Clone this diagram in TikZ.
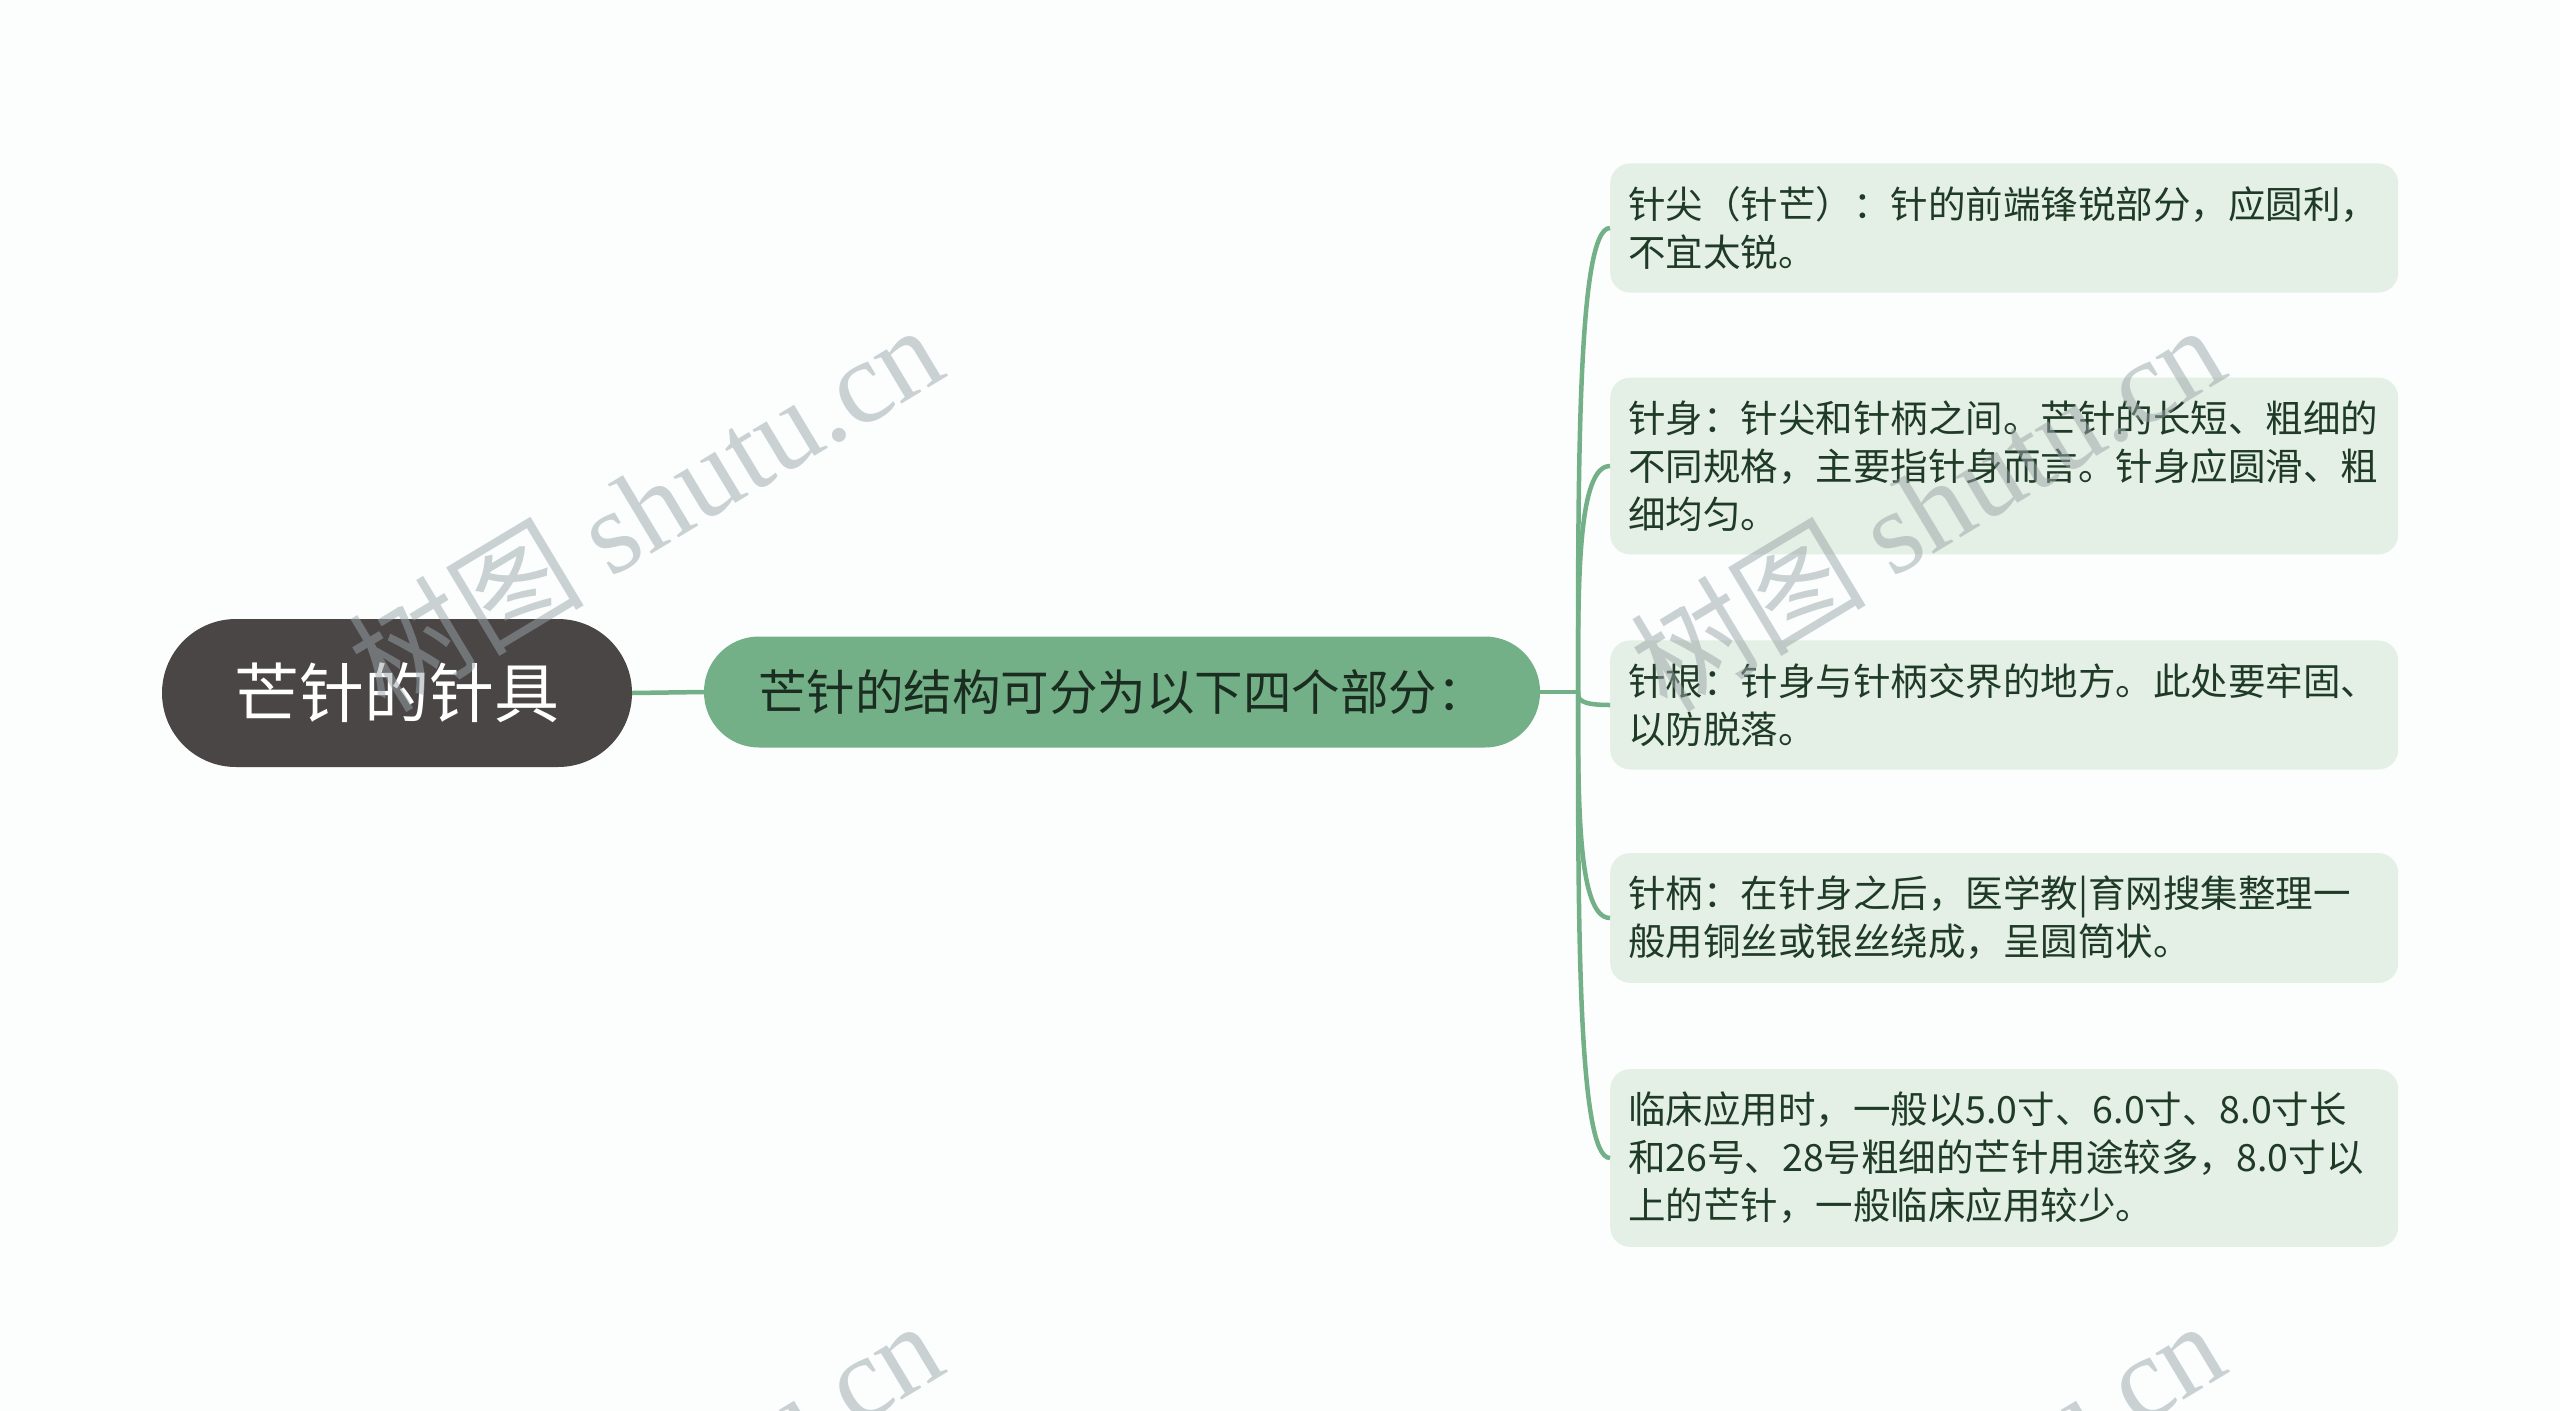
\documentclass[tikz,border=0pt]{standalone}
\usepackage{fontspec}
\setmainfont{Noto Sans CJK SC}
\newfontfamily\markfont{Liberation Serif}
\usepackage{xcolor}
\usetikzlibrary{positioning,calc}

\definecolor{bgpaper}{HTML}{FBFEFD}
\definecolor{rootgrey}{HTML}{4B4646}
\definecolor{branchgreen}{HTML}{73B087}
\definecolor{leafgreen}{HTML}{E4EFE6}
\definecolor{leaftext}{HTML}{1F3B27}
\definecolor{midtext}{HTML}{1B2C20}
\definecolor{markgrey}{HTML}{9AA5A8}

\begin{document}
\begin{tikzpicture}[x=1pt, y=-1pt,
    rootbox/.style={fill=rootgrey, text=white, rounded corners=74pt, minimum width=470pt, minimum height=148pt, inner sep=0pt, font=\fontsize{65}{70}\selectfont},
    midbox/.style={fill=branchgreen, text=midtext, rounded corners=55pt, minimum width=836pt, minimum height=111pt, inner sep=0pt, font=\fontsize{48.5}{52}\selectfont},
    leafbox/.style={fill=leafgreen, text=leaftext, rounded corners=20pt, anchor=west, text width=752pt, align=left, inner xsep=18pt, inner ysep=23pt, font=\fontsize{37.5}{48}\selectfont},
    branch/.style={draw=branchgreen, line width=4.5pt},
    watermark/.style={text=markgrey, opacity=0.5, rotate=31, font=\fontsize{118}{124}\selectfont}]

    % Paper
    \fill[bgpaper] (0,0) rectangle (2560,1411);
    \clip (0,0) rectangle (2560,1411);

    % Root and middle topic
    \node[rootbox] (root) at (397,693) {芒针的针具};
    \node[midbox] (mid) at (1122,692) {芒针的结构可分为以下四个部分：};
    \coordinate (hub) at (1578,692);

    % Leaf topics
    \node[leafbox] (tip) at (1610,228) {针尖（针芒）：针的前端锋锐部分，应圆利，\\不宜太锐。};
    \node[leafbox] (body) at (1610,466) {针身：针尖和针柄之间。芒针的长短、粗细的\\不同规格，主要指针身而言。针身应圆滑、粗\\细均匀。};
    \node[leafbox] (root2) at (1610,705) {针根：针身与针柄交界的地方。此处要牢固、\\以防脱落。};
    \node[leafbox] (handle) at (1610,918) {针柄：在针身之后，医学教|育网搜集整理一\\般用铜丝或银丝绕成，呈圆筒状。};
    \node[leafbox] (usage) at (1610,1158) {临床应用时，一般以5.0寸、6.0寸、8.0寸长\\和26号、28号粗细的芒针用途较多，8.0寸以\\上的芒针，一般临床应用较少。};

    % Connectors
    \draw[branch] (root.east) -- (mid.west);
    \draw[branch] (mid.east) -- (hub);
    \draw[branch] (hub) .. controls ($(hub)!0.5!(hub|-tip.west)$) and (hub|-tip.west) .. (tip.west);
    \draw[branch] (hub) .. controls ($(hub)!0.5!(hub|-body.west)$) and (hub|-body.west) .. (body.west);
    \draw[branch] (hub) .. controls ($(hub)!0.5!(hub|-root2.west)$) and (hub|-root2.west) .. (root2.west);
    \draw[branch] (hub) .. controls ($(hub)!0.5!(hub|-handle.west)$) and (hub|-handle.west) .. (handle.west);
    \draw[branch] (hub) .. controls ($(hub)!0.5!(hub|-usage.west)$) and (hub|-usage.west) .. (usage.west);

    % Watermarks
    \node[watermark] (mark1) at (645,506) {树图 {\markfont shutu.cn}};
    \node[watermark] (mark2) at (1927,506) {树图 {\markfont shutu.cn}};
    \node[watermark] (mark3) at (645,1502) {树图 {\markfont shutu.cn}};
    \node[watermark] (mark4) at (1927,1502) {树图 {\markfont shutu.cn}};
\end{tikzpicture}
\end{document}
